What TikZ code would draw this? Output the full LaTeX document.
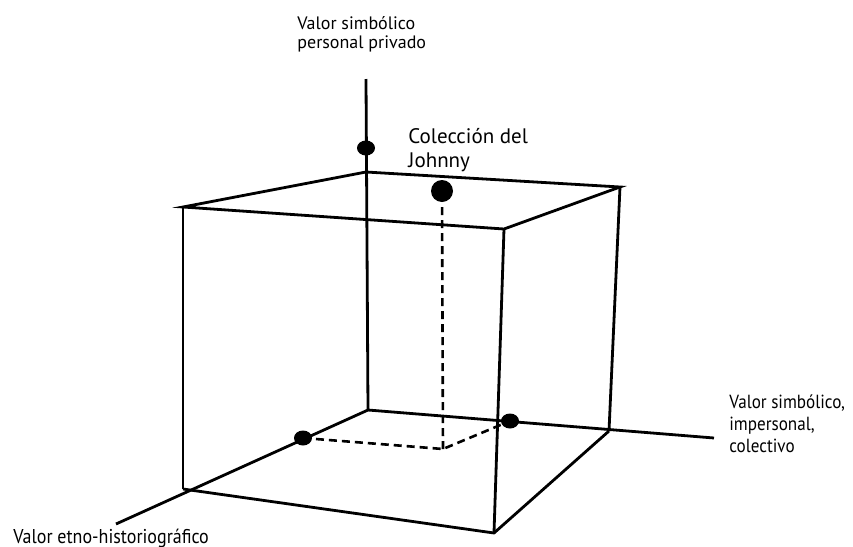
\documentclass[tikz,border=0pt]{standalone}
\usepackage{fontspec}
\setmainfont{PT Sans}
\newfontfamily\narrowfont[FakeStretch=0.9]{PT Sans}
\usepackage{tikz}
\usetikzlibrary{shapes.geometric}

\begin{document}
\begin{tikzpicture}[x=0.5pt,y=-0.5pt,
    edge/.style={line width=1.4pt},
    proj/.style={line width=1.3pt, dash pattern=on 4pt off 2.5pt},
    dot/.style={ellipse,fill,inner sep=0pt,minimum width=9pt,minimum height=7.5pt},
    bigdot/.style={circle,fill,inner sep=0pt,minimum size=11pt},
    lbl/.style={inner sep=0pt,align=left,anchor=west}]
    \useasboundingbox (0,0) rectangle (853,547);
    % Bottom face
    \coordinate (O) at (368,410);
    \coordinate (BL) at (183,489);
    \coordinate (BF) at (494,533);
    \coordinate (BR) at (609,431);
    % Top face
    \coordinate (TB) at (366,172);
    \coordinate (TL) at (183,207);
    \coordinate (TF) at (504,229);
    \coordinate (TR) at (620,187);
    % Axis ends
    \coordinate (Zend) at (366,79);
    \coordinate (Xend) at (116,524);
    \coordinate (Yend) at (714,438);
    \coordinate (P) at (443,449);
    % Axes
    \draw[edge] (O) -- (Zend);
    \draw[edge] (O) -- (Xend);
    \draw[edge] (O) -- (Yend);
    % Cube
    \draw[edge] (TB) -- (TL) -- (TF) -- (TR) -- cycle;
    \draw[edge] (BL) -- (BF) -- (BR);
    \draw[edge] (TL) -- (BL);
    \draw[edge] (TF) -- (BF);
    \draw[edge] (TR) -- (BR);
    % Points
    \node[dot] (z) at (366,148) {};
    \node[dot] (x) at (303,438) {};
    \node[dot] (y) at (510,421) {};
    \node[bigdot] (J) at (442,191) {};
    \draw[proj] (x.center) -- (P) -- (y.center);
    \draw[proj] (P) -- (J);
    % Labels
    \node[lbl,font=\fontsize{9}{9.5}\selectfont] (lz) at (297,34) {Valor simbólico\\personal privado};
    \node[lbl,font=\fontsize{10.5}{12}\selectfont] (lJ) at (408,150) {Colección del\\Johnny};
    \node[lbl,font=\narrowfont\fontsize{9.5}{11}\selectfont] (ly) at (729,424) {Valor simbólico,\\impersonal,\\colectivo};
    \node[lbl,font=\narrowfont\fontsize{10}{11}\selectfont] (lx) at (13,538) {Valor etno-historiográfico};
\end{tikzpicture}
\end{document}
